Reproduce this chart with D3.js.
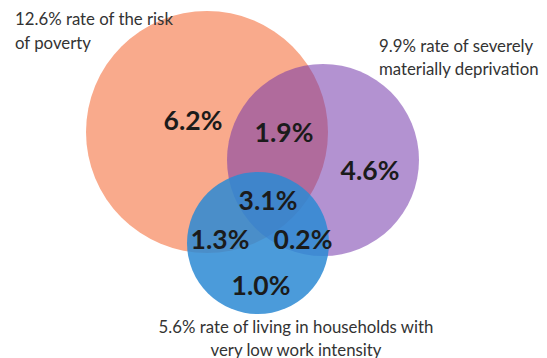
<!DOCTYPE html>
<html>
<head>
<meta charset="utf-8">
<script src="https://cdn.jsdelivr.net/npm/d3@7/dist/d3.min.js"></script>
<style>
  html, body { margin: 0; padding: 0; background: #fff; }
  svg { display: block; }
</style>
</head>
<body>
<div id="chart"></div>
<script>
// Poverty indicators: set totals (share of population, %)
const setNames = ["poverty", "deprivation", "lowWork"];
const setTotals = [12.6, 9.9, 5.6];
const setCaptions = [
  ["12.6% rate of the risk", "of poverty"],
  ["9.9% rate of severely", "materially deprivation"],
  ["5.6% rate of living in households with", "very low work intensity"]
];

// Exclusive region shares (%), keyed by the sets they belong to
const regionKeys = ["P", "PD", "D", "PDL", "PL", "DL", "L"];
const regionValues = [6.2, 1.9, 4.6, 3.1, 1.3, 0.2, 1.0];

// ---- layout ----
const W = 547, H = 358;
const circleLayout = {
  poverty:     { cx: 207, cy: 132, r: 121, fill: "#F9AA8C", opacity: 1 },
  deprivation: { cx: 323, cy: 160, r: 96,  fill: "rgb(114,54,170)", opacity: 0.54 },
  lowWork:     { cx: 258, cy: 243, r: 71,  fill: "rgb(44,138,212)", opacity: 0.85 }
};
const regionAnchor = {
  P: [193, 120], PD: [284, 132], D: [370, 170], PDL: [268, 200],
  PL: [220, 239], DL: [303, 239], L: [261, 285]
};
const captionLayout = [
  { x: 15,  y: 18, anchor: "start",  dy: 24 },
  { x: 379, y: 45, anchor: "start",  dy: 23 },
  { x: 296, y: 326, anchor: "middle", dy: 23 }
];

const svg = d3.select("#chart").append("svg")
  .attr("width", W).attr("height", H);

const sets = setNames.map((name, i) => ({ name, total: setTotals[i], ...circleLayout[name] }));

svg.append("g").selectAll("circle")
  .data(sets)
  .join("circle")
  .attr("cx", d => d.cx)
  .attr("cy", d => d.cy)
  .attr("r", d => d.r)
  .attr("fill", d => d.fill)
  .attr("fill-opacity", d => d.opacity);

const fmt = d3.format(".1f");
svg.append("g").selectAll("text")
  .data(regionKeys.map((k, i) => ({ key: k, value: regionValues[i] })))
  .join("text")
  .attr("x", d => regionAnchor[d.key][0])
  .attr("y", d => regionAnchor[d.key][1])
  .attr("text-anchor", "middle")
  .attr("dominant-baseline", "central")
  .attr("font-family", "Lato, 'Open Sans', sans-serif")
  .attr("font-weight", 700)
  .attr("font-size", 26.5)
  .attr("fill", "#1b1b1b")
  .text(d => fmt(d.value) + "%");

const cap = svg.append("g").selectAll("text")
  .data(setCaptions.map((lines, i) => ({ lines, ...captionLayout[i] })))
  .join("text")
  .attr("text-anchor", d => d.anchor)
  .attr("font-family", "Lato, 'Open Sans', sans-serif")
  .attr("font-size", 16.8)
  .attr("fill", "#333");

cap.selectAll("tspan")
  .data(d => d.lines.map((t, j) => ({ t, x: d.x, y: d.y + j * d.dy })))
  .join("tspan")
  .attr("x", d => d.x)
  .attr("y", d => d.y)
  .attr("dominant-baseline", "central")
  .text(d => d.t);
</script>
</body>
</html>
